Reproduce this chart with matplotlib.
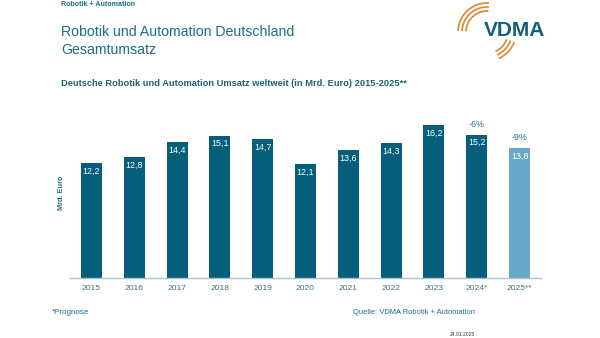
import matplotlib
matplotlib.use("Agg")
import matplotlib.pyplot as plt
from matplotlib.patches import Arc

plt.rcParams['font.family'] = ['Liberation Sans', 'DejaVu Sans']

years = ['2015', '2016', '2017', '2018', '2019', '2020', '2021', '2022', '2023', '2024*', '2025**']
umsatz = [12.2, 12.8, 14.4, 15.1, 14.7, 12.1, 13.6, 14.3, 16.2, 15.2, 13.8]
labels = ['12,2', '12,8', '14,4', '15,1', '14,7', '12,1', '13,6', '14,3', '16,2', '15,2', '13,8']
changes = {9: '-6%', 10: '-9%'}

W, H = 600, 338
dark = '#055e7a'
light = '#68a8c6'
teal_txt = '#1c6d8a'
tick_txt = '#3f6f80'


def fx(x):
    return x / W


def fy(y):
    return 1 - y / H


fig = plt.figure(figsize=(6, 3.38), dpi=100)
fig.patch.set_facecolor('white')

# bar chart
ax = fig.add_axes([70 / W, 1 - 278 / H, 471 / W, 169.7 / H])
colors = [dark] * 10 + [light]
xs = list(range(len(years)))
bars = ax.bar(xs, umsatz, width=0.49, color=colors, zorder=2)
ax.set_xlim(-0.5, len(years) - 0.5)
ax.set_ylim(0, 18)
ax.set_yticks([])
ax.set_xticks(xs)
ax.set_xticklabels(years, fontsize=6.1, color=tick_txt)
ax.tick_params(axis='x', length=0, pad=5)
for s in ['top', 'right', 'left']:
    ax.spines[s].set_visible(False)
ax.spines['bottom'].set_color('#a9c3cc')
ax.spines['bottom'].set_linewidth(1.0)

for i, (v, lab) in enumerate(zip(umsatz, labels)):
    ax.annotate(lab, (i, v), xytext=(0, -5.8), textcoords='offset points',
                ha='center', va='center', color='white', fontsize=6.4)
for i, txt in changes.items():
    ax.annotate(txt, (i, umsatz[i]), xytext=(0, 7.2), textcoords='offset points',
                ha='center', va='center', color=teal_txt, fontsize=6.4)

ax.set_ylabel('Mrd. Euro', fontsize=5.3, fontweight='bold', color=teal_txt)
ax.yaxis.set_label_coords(-5 / 471, 0.5)

# header texts
fig.text(fx(61), fy(5), 'Robotik + Automation', fontsize=5.1, fontweight='bold',
         color=teal_txt, va='center', ha='left')
fig.text(fx(61), fy(32), 'Robotik und Automation Deutschland', fontsize=10.2,
         color=teal_txt, va='center', ha='left')
fig.text(fx(61), fy(50), 'Gesamtumsatz', fontsize=10.2,
         color=teal_txt, va='center', ha='left')
fig.text(fx(61), fy(84), 'Deutsche Robotik und Automation Umsatz weltweit (in Mrd. Euro) 2015-2025**',
         fontsize=6.7, fontweight='bold', color='#1d6178', va='center', ha='left')

# footer texts
fig.text(fx(52), fy(312), '*Prognose', fontsize=5.8, color=teal_txt, va='center', ha='left')
fig.text(fx(475), fy(312), 'Quelle: VDMA Robotik + Automation', fontsize=5.4,
         color=teal_txt, va='center', ha='right')
fig.text(fx(475), fy(334), '24.01.2025', fontsize=3.6, color='#333333', va='center', ha='right')

# logo
lax = fig.add_axes([450 / W, 1 - 60 / H, 110 / W, 60 / H])
lax.set_xlim(450, 560)
lax.set_ylim(0, 60)
lax.axis('off')
cx, cy = 487, 28
for r in [21, 25, 29]:
    lax.add_patch(Arc((cx, cy), 2 * r, 2 * r, theta1=86, theta2=178,
                      color='#e0852f', lw=1.2))
    lax.add_patch(Arc((cx, cy), 2 * r, 2 * r, theta1=-66, theta2=-20,
                      color='#e0852f', lw=1.2))
lax.text(515, 30, 'VDMA', fontsize=15, fontweight='bold', color='#11607c',
         ha='center', va='center')

fig.savefig('out.png', dpi=100, facecolor='white')
